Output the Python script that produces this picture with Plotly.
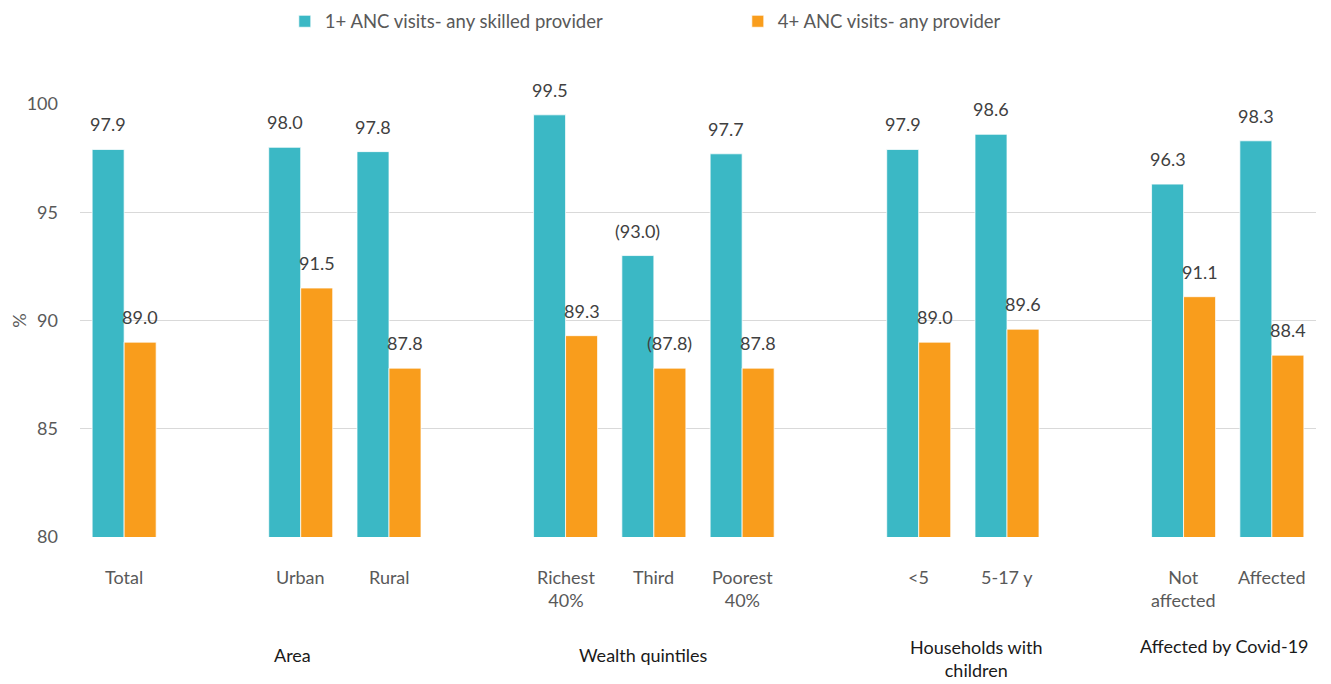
import plotly.graph_objects as go

# ---- data ----
categories = ["Total", "", "Urban", "Rural", "", "Richest<br>40%", "Third", "Poorest<br>40%",
              "", "&lt;5", "5-17 y", "", "Not<br>affected", "Affected"]
skilled_1plus = [97.9, None, 98.0, 97.8, None, 99.5, 93.0, 97.7, None, 97.9, 98.6, None, 96.3, 98.3]
any_4plus = [89.0, None, 91.5, 87.8, None, 89.3, 87.8, 87.8, None, 89.0, 89.6, None, 91.1, 88.4]
skilled_labels = ["97.9", "", "98.0", "97.8", "", "99.5", "(93.0)", "97.7", "", "97.9", "98.6", "", "96.3", "98.3"]
any_labels = ["89.0", "", "91.5", "87.8", "", "89.3", "(87.8)", "87.8", "", "89.0", "89.6", "", "91.1", "88.4"]
series_names = ["1+ ANC visits- any skilled provider", "4+ ANC visits- any provider"]
group_names = ["Area", "Wealth quintiles", "Households with<br>children", "Affected by Covid-19"]
group_pos = [1.91, 5.88, 9.66, 12.46]
group_shift = [-118, -118, -121, -109]

TEAL = "#3BB8C5"
ORANGE = "#F99D1C"
FONT = "Lato"

x = list(range(len(categories)))

fig = go.Figure()
fig.add_trace(go.Bar(x=x, y=skilled_1plus, name=series_names[0],
                     marker=dict(color=TEAL, line=dict(color="white", width=0.75))))
fig.add_trace(go.Bar(x=x, y=any_4plus, name=series_names[1],
                     marker=dict(color=ORANGE, line=dict(color="white", width=0.75))))

annotations = []
half = 0.181
for i in x:
    if skilled_1plus[i] is not None:
        annotations.append(dict(x=i - half, y=skilled_1plus[i], xref="x", yref="y", text=skilled_labels[i],
                                showarrow=False, yanchor="bottom", yshift=12,
                                font=dict(family=FONT, size=18, color="#404040")))
    if any_4plus[i] is not None:
        annotations.append(dict(x=i + half, y=any_4plus[i], xref="x", yref="y", text=any_labels[i],
                                showarrow=False, yanchor="bottom", yshift=12,
                                font=dict(family=FONT, size=18, color="#404040")))
    if categories[i]:
        annotations.append(dict(x=i, y=0, xref="x", yref="paper", text=categories[i],
                                showarrow=False, yanchor="top", yshift=-27,
                                font=dict(family=FONT, size=18, color="#595959")))
for name, pos, sh in zip(group_names, group_pos, group_shift):
    annotations.append(dict(x=pos, y=0, xref="x", yref="paper", text=name,
                            showarrow=False, yanchor="middle", yshift=sh,
                            font=dict(family=FONT, size=18, color="#1a1a1a")))

fig.update_layout(
    width=1331, height=684,
    margin=dict(l=72, r=23, t=96, b=155, autoexpand=False),
    paper_bgcolor="white", plot_bgcolor="white",
    barmode="group", bargap=0.275, bargroupgap=0,
    font=dict(family=FONT, size=18, color="#595959"),
    showlegend=True,
    legend=dict(orientation="h", x=0.1657, xanchor="left", y=1.19, yanchor="middle",
                font=dict(family=FONT, size=18.5, color="#595959"), entrywidth=408,
                itemclick=False),
    annotations=annotations,
    xaxis=dict(range=[-0.5, 13.5], showticklabels=False, showgrid=False, zeroline=False,
               showline=False, ticks="", automargin=False),
    yaxis=dict(range=[80, 100], tickvals=[80, 85, 90, 95, 100], showgrid=True,
               gridcolor="#D9D9D9", gridwidth=1, zeroline=False, showline=False, automargin=False,
               tickfont=dict(family=FONT, size=18, color="#595959"), ticklabelstandoff=21,
               title=dict(text="%", font=dict(family=FONT, size=18, color="#595959"), standoff=4)),
)

fig.write_html("out.html")
